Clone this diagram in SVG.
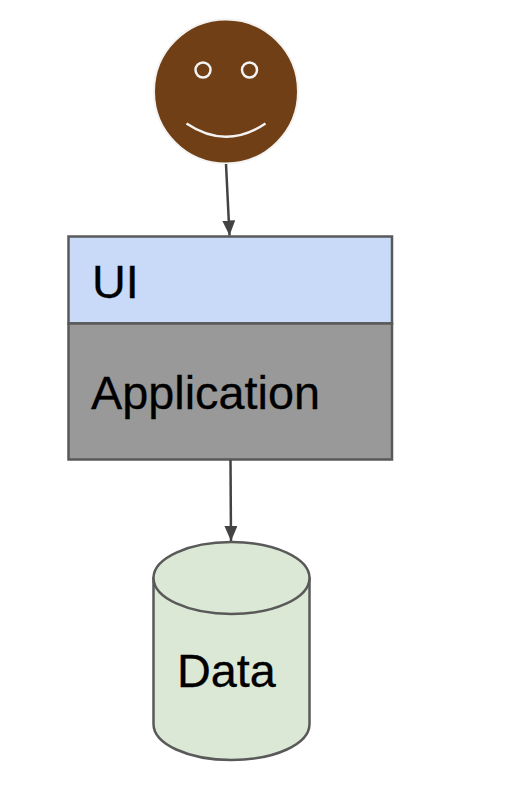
<svg xmlns="http://www.w3.org/2000/svg" width="522" height="798" viewBox="0 0 522 798">
<style>
.box{stroke:#595959;stroke-width:2.5}
.lbl{font-family:"Liberation Sans",Arial,sans-serif;font-size:46.800px;fill:#000;stroke:#000;stroke-width:0.3}
.face{stroke:#f3f3f3;stroke-width:2}
.conn{fill:none;stroke:#434343;stroke-width:2.500;marker-end:url(#arr)}
</style>
<defs>
<marker id="arr" markerUnits="userSpaceOnUse" markerWidth="16" markerHeight="14" refX="15" refY="6.500" orient="auto"><path d="M0 0L15 6.500L0 13Z" fill="#434343"/></marker>
</defs>
<rect width="522" height="798" fill="#fff"/>
<g id="user">
<circle class="face" cx="226" cy="91.500" r="72" fill="#703f15"/>
<g fill="none" stroke="#f3f3f3" stroke-width="2.500">
<circle cx="203" cy="70" r="7.500"/>
<circle cx="249.500" cy="70" r="7.500"/>
<path d="M186.500 123.500Q226 150 265.500 123.500"/>
</g>
</g>
<g id="ui">
<rect class="box" x="68.500" y="236.500" width="323.500" height="87" fill="#c9daf8"/>
<text class="lbl" x="92" y="298">UI</text>
</g>
<g id="application">
<rect class="box" x="68.500" y="323.500" width="323.500" height="136" fill="#999"/>
<text class="lbl" x="91" y="409">Application</text>
</g>
<g id="data">
<path class="box" d="M153.500 578V724C153.500 744 188 760 231.500 760S309.500 744 309.500 724V578Z" fill="#dce8d6"/>
<ellipse class="box" cx="231.500" cy="578" rx="78" ry="36" fill="#dce8d6"/>
<text class="lbl" x="177" y="687">Data</text>
</g>
<g id="connectors">
<path class="conn" d="M226 164L229.500 235.500"/>
<path class="conn" d="M230.500 460L231 541"/>
</g>
</svg>
